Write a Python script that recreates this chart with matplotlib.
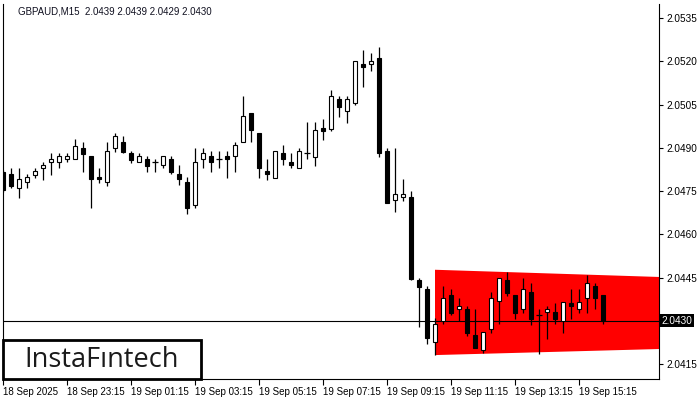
import matplotlib
matplotlib.use("Agg")
import matplotlib.pyplot as plt
from matplotlib.patches import Rectangle

# Datos de las velas (GBPAUD, M15)
opens = [2.04816, 2.04809, 2.04760, 2.04781, 2.04806, 2.04830, 2.04851, 2.04851, 2.04861, 2.04861,
         2.04899, 2.04871, 2.04799, 2.04781, 2.04899, 2.04920, 2.04882, 2.04851, 2.04861, 2.04851,
         2.04840, 2.04861, 2.04809, 2.04781, 2.04702, 2.04861, 2.04871, 2.04861, 2.04871, 2.04871,
         2.04920, 2.05021, 2.04951, 2.04819, 2.04795, 2.04882, 2.04851, 2.04830, 2.04882, 2.04868,
         2.04969, 2.04965, 2.05069, 2.05027, 2.05055, 2.05190, 2.05190, 2.05211, 2.04889, 2.04719,
         2.04729, 2.04729, 2.04441, 2.04410, 2.04226, 2.04299, 2.04389, 2.04341, 2.04341, 2.04251,
         2.04199, 2.04271, 2.04369, 2.04441, 2.04389, 2.04341, 2.04400, 2.04320, 2.04330, 2.04330,
         2.04299, 2.04362, 2.04341, 2.04379, 2.04421, 2.04390]
highs = [2.04823, 2.04830, 2.04830, 2.04809, 2.04830, 2.04851, 2.04882, 2.04882, 2.04882, 2.04930,
         2.04920, 2.04871, 2.04830, 2.04920, 2.04951, 2.04941, 2.04889, 2.04882, 2.04871, 2.04861,
         2.04871, 2.04871, 2.04840, 2.04799, 2.04899, 2.04899, 2.04889, 2.04889, 2.04889, 2.04920,
         2.05080, 2.05021, 2.04951, 2.04861, 2.04889, 2.04910, 2.04882, 2.04899, 2.04989, 2.04989,
         2.05000, 2.05100, 2.05080, 2.05080, 2.05201, 2.05239, 2.05229, 2.05249, 2.04899, 2.04899,
         2.04792, 2.04750, 2.04448, 2.04421, 2.04310, 2.04421, 2.04410, 2.04379, 2.04351, 2.04341,
         2.04261, 2.04400, 2.04448, 2.04469, 2.04389, 2.04448, 2.04431, 2.04341, 2.04351, 2.04362,
         2.04365, 2.04410, 2.04410, 2.04459, 2.04431, 2.04390]
lows = [2.04747, 2.04760, 2.04726, 2.04760, 2.04795, 2.04788, 2.04806, 2.04830, 2.04851, 2.04861,
        2.04816, 2.04691, 2.04778, 2.04767, 2.04885, 2.04882, 2.04847, 2.04851, 2.04816, 2.04816,
        2.04830, 2.04809, 2.04771, 2.04670, 2.04691, 2.04830, 2.04816, 2.04830, 2.04795, 2.04816,
        2.04920, 2.04920, 2.04795, 2.04788, 2.04795, 2.04840, 2.04830, 2.04830, 2.04861, 2.04837,
        2.04927, 2.04958, 2.05007, 2.04986, 2.05048, 2.05111, 2.05166, 2.04868, 2.04708, 2.04677,
        2.04715, 2.04441, 2.04278, 2.04219, 2.04181, 2.04289, 2.04320, 2.04299, 2.04247, 2.04206,
        2.04188, 2.04258, 2.04289, 2.04386, 2.04306, 2.04327, 2.04285, 2.04185, 2.04237, 2.04289,
        2.04258, 2.04306, 2.04327, 2.04327, 2.04341, 2.04290]
closes = [2.04754, 2.04767, 2.04792, 2.04799, 2.04819, 2.04840, 2.04861, 2.04871, 2.04871, 2.04906,
          2.04878, 2.04792, 2.04792, 2.04889, 2.04941, 2.04885, 2.04858, 2.04871, 2.04837, 2.04851,
          2.04871, 2.04816, 2.04792, 2.04691, 2.04851, 2.04882, 2.04851, 2.04861, 2.04861, 2.04910,
          2.05010, 2.04962, 2.04830, 2.04809, 2.04889, 2.04861, 2.04840, 2.04889, 2.04882, 2.04962,
          2.04958, 2.05080, 2.05041, 2.05069, 2.05201, 2.05180, 2.05201, 2.04882, 2.04708, 2.04740,
          2.04740, 2.04445, 2.04417, 2.04240, 2.04289, 2.04379, 2.04327, 2.04351, 2.04258, 2.04206,
          2.04261, 2.04379, 2.04448, 2.04396, 2.04327, 2.04410, 2.04306, 2.04320, 2.04341, 2.04306,
          2.04365, 2.04351, 2.04365, 2.04431, 2.04379, 2.04300]

# Figura (bandera roja / rectangulo)
band_x = [54, 82, 82, 54]
band_y = [2.04477, 2.04452, 2.04202, 2.04181]

bid_price = 2.0430
title_text = "GBPAUD,M15  2.0439 2.0439 2.0429 2.0430"

x_tick_pos = [0, 8, 16, 24, 32, 40, 48, 56, 64, 72]
x_tick_labels = ["18 Sep 2025", "18 Sep 23:15", "19 Sep 01:15", "19 Sep 03:15", "19 Sep 05:15",
                 "19 Sep 07:15", "19 Sep 09:15", "19 Sep 11:15", "19 Sep 13:15", "19 Sep 15:15"]
y_ticks = [2.0415, 2.0445, 2.0460, 2.0475, 2.0490, 2.0505, 2.0520, 2.0535]

plt.rcParams["font.family"] = ["Liberation Sans", "DejaVu Sans"]

fig = plt.figure(figsize=(7, 4), dpi=100)
ax = fig.add_axes([3 / 700, 21 / 400, 656 / 700, 375 / 400])

ax.set_xlim(0, 82)
ax.set_ylim(2.04098, 2.05399)

# Rectangulo rojo
ax.fill(band_x, band_y, color="#ff0000", lw=0, zorder=1)

# Linea del precio actual
ax.axhline(bid_price, color="black", lw=0.8, zorder=2)

# Velas
idx = list(range(len(opens)))
ax.vlines(idx, lows, highs, color="black", lw=0.9, zorder=3)
for i in idx:
    o, c = opens[i], closes[i]
    if o == c:
        ax.hlines(o, i - 0.35, i + 0.35, color="black", lw=0.9, zorder=4)
        continue
    face = "white" if c > o else "black"
    ax.add_patch(Rectangle((i - 0.3, min(o, c)), 0.6, abs(c - o),
                           facecolor=face, edgecolor="black", lw=0.8, zorder=4))

# Ejes
ax.spines["top"].set_visible(False)
for s in ["left", "right", "bottom"]:
    ax.spines[s].set_linewidth(0.8)
ax.yaxis.tick_right()
ax.set_yticks(y_ticks, [f"{v:.4f}" for v in y_ticks])
ax.set_xticks(x_tick_pos, x_tick_labels, ha="left")
ax.tick_params(axis="y", length=3, width=0.8, pad=2, labelsize=7.2)
ax.tick_params(axis="x", length=4, width=0.8, pad=2, labelsize=7)

# Etiqueta del precio actual
ax.text(1.004, bid_price, "2.0430", transform=ax.get_yaxis_transform(), ha="left", va="center",
        color="white", fontsize=7.2, bbox=dict(facecolor="black", edgecolor="none", pad=1.2),
        clip_on=False)

# Titulo
fig.text(18 / 700, 1 - 12 / 400, title_text, fontsize=7, va="center", ha="left",
         color="#101020")

# Logo
fig.add_artist(Rectangle((3 / 700, 21 / 400), 198 / 700, 39 / 400, transform=fig.transFigure,
                         facecolor="white", edgecolor="black", lw=2))
fig.text(102 / 700, 1 - 360 / 400, "InstaF\u0131ntech", fontsize=19.5, family="Open Sans",
         ha="center", va="center", color="#1a1a1a")

fig.savefig("out.png", dpi=100)
